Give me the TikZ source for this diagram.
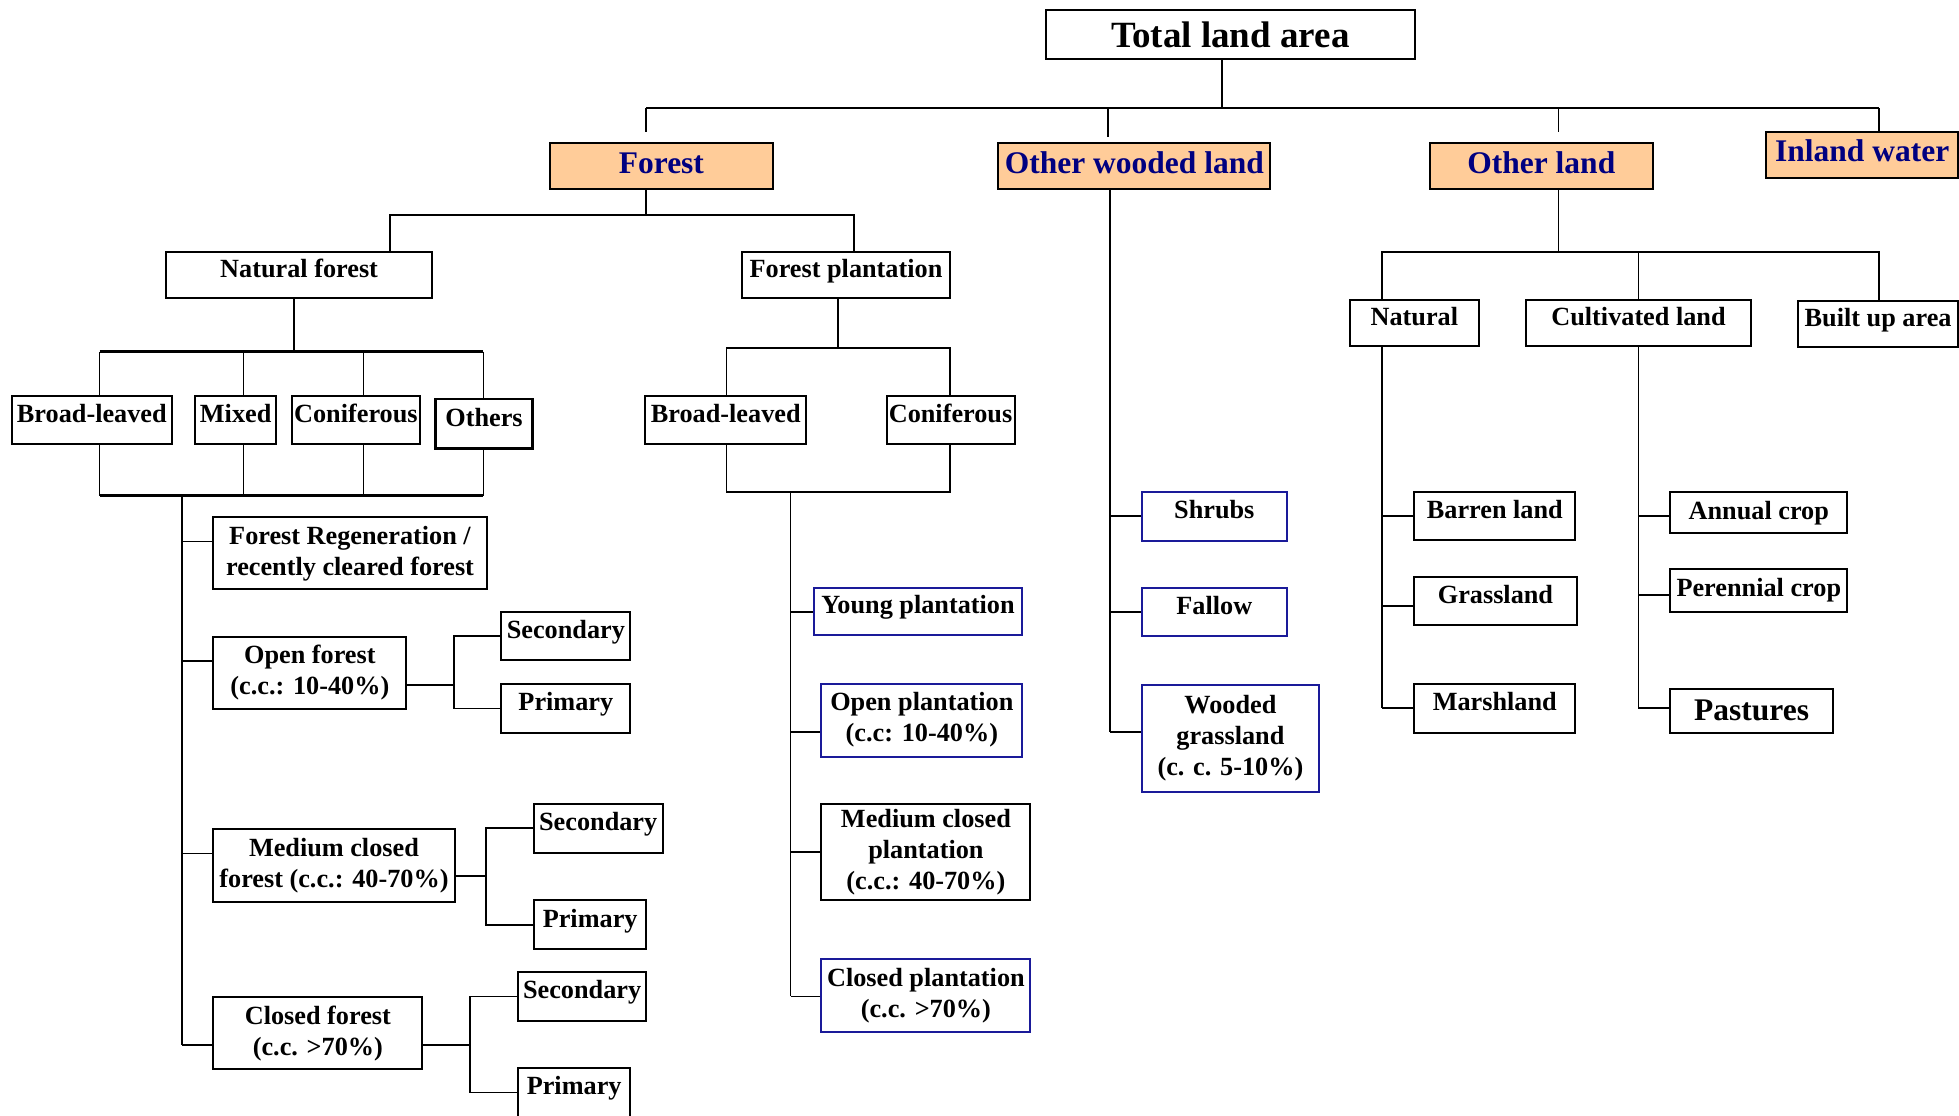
\documentclass[tikz,border=0pt]{standalone}
\usepackage{fontspec}
\setmainfont{Liberation Serif}
\usepackage{tikz}
\usetikzlibrary{calc}
\definecolor{navy}{RGB}{0,0,128}
\definecolor{boxblue}{RGB}{26,26,153}
\definecolor{peach}{RGB}{255,204,153}

\begin{document}
\begin{tikzpicture}[x=0.4pt, y=-0.4pt, line width=0.7pt,
    bx/.style={draw, line width=0.8pt, fill=white, inner sep=0.5pt, align=center,
      font=\bfseries\fontsize{10.5}{12.4}\selectfont},
    blu/.style={bx, draw=boxblue},
    hd/.style={bx, fill=peach, text=navy, text height=8.6pt, text depth=3.2pt,
      font=\bfseries\fontsize{12.6}{15}\selectfont},
    one/.style={text height=7.1pt, text depth=5.2pt},
    sz/.style 2 args={minimum width=#1*0.4pt, minimum height=#2*0.4pt}]
      \useasboundingbox (0,0) rectangle (1959,1115);
      \clip (0,0) rectangle (1959,1115);

      \node[bx, sz={368.8}{49.3}, font=\bfseries\fontsize{14.8}{17}\selectfont] (total) at (1230.3,34.7) {Total land area};
      \node[hd, sz={223.3}{46}] (forest) at (661.4,166.3) {Forest};
      \node[hd, sz={272}{46}] (owl) at (1134.3,166.3) {Other wooded land};
      \node[hd, sz={222.6}{46}] (othland) at (1541.3,166.3) {Other land};
      \node[hd, sz={191.6}{46.6}] (inwater) at (1862.2,155) {Inland water};

      \node[bx, one, sz={266.6}{46}] (natforest) at (299.1,274.7) {Natural forest};
      \node[bx, one, sz={208.6}{46}] (plantation) at (846,274.7) {Forest plantation};
      \node[bx, one, sz={160.7}{48.6}] (nbl) at (91.85,420) {Broad-leaved};
      \node[bx, one, sz={80.9}{48.6}] (nmx) at (235.65,420) {Mixed};
      \node[bx, one, sz={128.8}{48.6}] (ncf) at (355.9,420) {Coniferous};
      \node[bx, one, sz={96.9}{49.3}, line width=1.1pt] (noth) at (484,423.7) {Others};
      \node[bx, one, sz={160.7}{48.6}] (pbl) at (725.75,420) {Broad-leaved};
      \node[bx, one, sz={128.1}{48.6}] (pcf) at (950.55,420) {Coniferous};

      \node[bx, sz={273.2}{72.1}] (regen) at (350,553.35) {Forest Regeneration /\\recently cleared forest};
      \node[bx, sz={192.9}{72.5}] (openf) at (309.85,672.95) {Open forest\\(c.c.: 10-40\%)};
      \node[bx, one, sz={129.1}{48.6}] (opsec) at (565.85,635.9) {Secondary};
      \node[bx, one, sz={129.1}{48.6}] (oppri) at (565.85,708.4) {Primary};
      \node[bx, sz={241.1}{72.5}] (medf) at (333.95,865.35) {Medium closed\\forest (c.c.: 40-70\%)};
      \node[bx, one, sz={128.6}{48.6}] (medsec) at (598.2,828.3) {Secondary};
      \node[bx, one, sz={112.5}{48.6}] (medpri) at (590.15,924.7) {Primary};
      \node[bx, sz={208.9}{72.1}] (closf) at (317.85,1033.25) {Closed forest\\(c.c. >70\%)};
      \node[bx, one, sz={128.5}{48.6}] (clsec) at (582.15,996.4) {Secondary};
      \node[bx, one, sz={112.5}{49}] (clpri) at (574.15,1092.5) {Primary};

      \node[blu, one, sz={208.5}{47}] (young) at (918.05,611.6) {Young plantation};
      \node[blu, sz={200.9}{72.9}] (openp) at (921.85,720.15) {Open plantation\\(c.c: 10-40\%)};
      \node[bx, sz={209}{96.4}] (medp) at (925.9,852.2) {Medium closed\\plantation\\(c.c.: 40-70\%)};
      \node[blu, sz={209}{72.9}] (closp) at (925.9,995.55) {Closed plantation\\(c.c. >70\%)};

      \node[blu, one, sz={144.6}{48.6}] (shrub) at (1214.3,516.5) {Shrubs};
      \node[blu, one, sz={144.6}{48.2}] (fallow) at (1214.3,612.2) {Fallow};
      \node[blu, sz={176.8}{106.6}] (woodgr) at (1230.4,738.6) {Wooded\\grassland\\(c. c. 5-10\%)};

      \node[bx, one, sz={129.1}{46}] (natural) at (1414.35,323) {Natural};
      \node[bx, one, sz={225}{46}] (cultiv) at (1638.5,323) {Cultivated land};
      \node[bx, one, sz={159.8}{45.7}] (builtup) at (1878.1,323.85) {Built up area};
      \node[bx, one, sz={161}{48}] (barren) at (1494.8,516.3) {Barren land};
      \node[bx, one, sz={162.3}{48.3}] (grass) at (1495.45,601.15) {Grassland};
      \node[bx, one, sz={161}{48.4}] (marsh) at (1494.8,708.5) {Marshland};
      \node[bx, sz={177}{41}] (annual) at (1758.8,512.8) {Annual crop};
      \node[bx, sz={177}{43.7}] (perenn) at (1758.8,590.35) {Perennial crop};
      \node[bx, sz={162.7}{43.7}, font=\bfseries\fontsize{12.6}{15}\selectfont] (pastur) at (1751.65,710.85) {Pastures};

      \coordinate (t0) at (1222,108.3);
      \coordinate (t1) at (646,108.3);
      \coordinate (t2) at (1108.3,108.3);
      \coordinate (t3) at (1558.4,108.3);
      \coordinate (t4) at (1878.9,108.3);
      \draw (total.south -| t0) -- (t0);
      \draw (t1) -- (t4);
      \draw[shorten >=4pt] (t1) -- (t1 |- forest.north);
      \draw[shorten >=2pt] (t2) -- (t2 |- owl.north);
      \draw[shorten >=4pt] (t3) -- (t3 |- othland.north);
      \draw (t4) -- (t4 |- inwater.north);

      \coordinate (f0) at (646,215);
      \coordinate (f1) at (389.7,215);
      \coordinate (f2) at (854,215);
      \draw (forest.south -| f0) -- (f0);
      \draw (natforest.north -| f1) -- (f1) -- (f2) -- (plantation.north -| f2);

      \coordinate (n0) at (294,351.7);
      \coordinate (n1) at (99.5,351.7);
      \coordinate (n4) at (483.4,351.7);
      \coordinate (m0) at (182,495.5);
      \coordinate (m1) at (99.5,495.5);
      \coordinate (m4) at (483.4,495.5);
      \draw (natforest.south -| n0) -- (n0);
      \draw[line width=1pt] (n1) -- (n4);
      \draw[line width=1pt] (m1) -- (m4);
      \foreach \n/\x in {nbl/99.5, nmx/243.6, ncf/363.5, noth/483.4} {
        \coordinate (c) at (\x,0);
        \draw (c |- n1) -- (c |- \n.north);
        \draw (c |- \n.south) -- (c |- m1);
      }
      \draw (m0) -- (182,1045);
      \foreach \n/\y in {regen/541.6, openf/661, medf/853.4, closf/1045} {
        \coordinate (c) at (182,\y);
        \draw (c) -- (c -| \n.west);
      }

      \coordinate (o0) at (454,685.3);
      \draw (o0 -| openf.east) -- (o0);
      \draw (opsec.west) -| (o0) |- (oppri.west);
      \coordinate (q0) at (485.7,876.1);
      \draw (q0 -| medf.east) -- (q0);
      \draw (medsec.west) -| (q0) |- (medpri.west);
      \coordinate (r0) at (470,1045);
      \draw (r0 -| closf.east) -- (r0);
      \draw (clsec.west) -| (r0) |- (clpri.west);

      \coordinate (p0) at (838,348.3);
      \coordinate (p1) at (726.4,348.3);
      \coordinate (p2) at (950.3,348.3);
      \coordinate (p3) at (790.5,492.3);
      \draw (plantation.south -| p0) -- (p0);
      \draw (pbl.north -| p1) -- (p1) -- (p2) -- (pcf.north -| p2);
      \draw (pbl.south -| p1) -- (p1 |- p3) -- (p2 |- p3) -- (pcf.south -| p2);
      \draw (p3) -- (790.5,996.4);
      \foreach \n/\y in {young/612, openp/732.3, medp/851.8, closp/996.4} {
        \coordinate (c) at (790.5,\y);
        \draw (c) -- (c -| \n.west);
      }

      \coordinate (w0) at (1109.8,732.3);
      \draw (owl.south -| w0) -- (w0);
      \foreach \n/\y in {shrub/516, fallow/612, woodgr/732.3} {
        \coordinate (c) at (1109.8,\y);
        \draw (c) -- (c -| \n.west);
      }

      \coordinate (l0) at (1558.4,252.3);
      \coordinate (l1) at (1382.3,252.3);
      \coordinate (l2) at (1638.5,252.3);
      \coordinate (l3) at (1878.9,252.3);
      \draw (othland.south -| l0) -- (l0);
      \draw (natural.north -| l1) -- (l1) -- (l3) -- (builtup.north -| l3);
      \draw (l2) -- (l2 |- cultiv.north);

      \coordinate (k0) at (1382.3,708.3);
      \draw (natural.south -| k0) -- (k0);
      \foreach \n/\y in {barren/516, grass/605.7, marsh/708.3} {
        \coordinate (c) at (1382.3,\y);
        \draw (c) -- (c -| \n.west);
      }
      \coordinate (g0) at (1638.4,708.3);
      \draw (cultiv.south -| g0) -- (g0);
      \foreach \n/\y in {annual/516, perenn/595, pastur/708.3} {
        \coordinate (c) at (1638.4,\y);
        \draw (c) -- (c -| \n.west);
      }

    \end{tikzpicture}
\end{document}
